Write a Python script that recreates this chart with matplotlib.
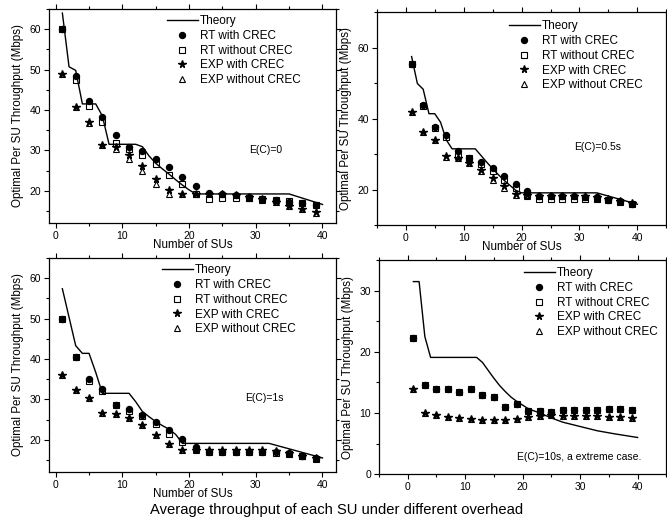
import numpy as np
import matplotlib
matplotlib.use("Agg")
import matplotlib.pyplot as plt
from matplotlib.ticker import MultipleLocator

plt.rcParams['font.family'] = ['Liberation Sans', 'DejaVu Sans']

x_su = [1, 3, 5, 7, 9, 11, 13, 15, 17, 19, 21, 23, 25, 27, 29, 31, 33, 35, 37, 39]

# Panel 1: E(C)=0
theory1_x = [1, 2, 3, 4, 6, 7, 8, 12, 13, 14, 15, 16, 17, 18, 19, 20, 21, 35, 40]
theory1_y = [64, 50.7, 49.8, 41.5, 41.5, 38.5, 31.5, 31.5, 30.9, 28.6, 26.8, 25.4, 24.1, 22.7, 21.4, 20.2, 19.2, 19.2, 16.6]
rt_with1 = [60.0, 48.3, 42.3, 38.3, 33.9, 30.8, 29.8, 27.9, 25.9, 23.3, 21.2, 19.4, 19.2, 18.9, 18.4, 18.0, 17.6, 17.3, 16.9, 16.4]
rt_without1 = [60.0, 47.5, 40.9, 37.1, 31.9, 30.3, 28.9, 26.6, 24.0, 21.6, 19.1, 18.0, 18.1, 18.1, 18.1, 18.0, 17.6, 17.4, 17.0, 16.4]
exp_with1 = [48.8, 40.7, 37.0, 31.3, 30.8, 28.8, 26.1, 22.9, 20.3, 19.2, 19.2, 19.3, 19.1, 18.9, 18.4, 17.9, 17.2, 16.2, 15.5, 14.7]
exp_without1 = [48.8, 40.7, 36.7, 31.3, 30.3, 27.9, 24.8, 21.6, 19.1, 19.1, 19.2, 19.3, 19.1, 18.9, 18.2, 17.8, 17.1, 16.2, 15.5, 14.6]

# Panel 2: E(C)=0.5s
theory2_x = [1, 2, 3, 4, 5, 6, 7, 8, 12, 13, 14, 15, 16, 17, 18, 19, 20, 33, 40]
theory2_y = [57.5, 49.9, 48.3, 41.4, 41.4, 39.0, 34.0, 31.5, 31.5, 29.6, 27.7, 25.9, 24.2, 22.6, 21.2, 19.8, 19.1, 19.1, 15.9]
rt_with2 = [55.3, 43.8, 37.7, 35.3, 31.0, 29.0, 27.8, 26.0, 23.9, 21.6, 19.6, 18.3, 18.2, 18.2, 18.1, 18.0, 17.8, 17.2, 16.7, 16.0]
rt_without2 = [55.3, 43.7, 37.3, 34.7, 29.6, 28.8, 27.2, 25.3, 22.7, 20.5, 18.6, 17.5, 17.5, 17.5, 17.5, 17.5, 17.5, 17.0, 16.5, 16.0]
exp_with2 = [42.0, 36.2, 34.1, 29.5, 28.8, 27.6, 25.6, 23.4, 21.0, 18.7, 18.4, 18.3, 18.3, 18.3, 18.3, 18.1, 17.8, 17.4, 16.9, 16.2]
exp_without2 = [42.0, 36.2, 34.0, 29.2, 28.8, 27.6, 25.3, 22.7, 20.4, 18.5, 18.2, 18.2, 18.2, 18.2, 18.2, 18.0, 17.7, 17.3, 16.8, 16.1]

# Panel 3: E(C)=1s
theory3_x = [1, 3, 4, 5, 6, 7, 11, 12, 13, 14, 15, 16, 17, 18, 19, 32, 40]
theory3_y = [57.4, 43.3, 41.4, 41.4, 36.7, 31.5, 31.5, 29.4, 27.0, 25.7, 24.5, 23.5, 22.6, 21.3, 19.1, 19.1, 15.5]
rt_with3 = [50.0, 40.5, 35.0, 32.5, 28.6, 27.5, 26.1, 24.4, 22.3, 20.1, 18.2, 17.0, 17.0, 17.0, 17.0, 17.0, 16.9, 16.6, 16.0, 15.4]
rt_without3 = [50.0, 40.4, 34.5, 32.1, 28.5, 27.2, 25.8, 23.9, 21.4, 19.5, 17.6, 16.9, 16.9, 16.9, 16.9, 16.9, 16.8, 16.4, 15.9, 15.3]
exp_with3 = [36.0, 32.2, 30.3, 26.7, 26.5, 25.5, 23.6, 21.2, 18.9, 17.5, 17.5, 17.4, 17.4, 17.4, 17.4, 17.4, 17.3, 16.8, 16.1, 15.5]
exp_without3 = [36.0, 32.2, 30.3, 26.7, 26.5, 25.5, 23.6, 21.2, 18.9, 17.5, 17.5, 17.4, 17.4, 17.4, 17.4, 17.4, 17.3, 16.8, 16.1, 15.5]

# Panel 4: E(C)=10s
theory4_x = [1, 2, 3, 4, 12, 13, 14, 15, 16, 17, 18, 19, 20, 21, 23, 25, 27, 30, 33, 36, 40]
theory4_y = [31.5, 31.5, 22.5, 19.1, 19.1, 18.3, 17.0, 15.7, 14.5, 13.5, 12.6, 11.9, 11.3, 10.7, 10.0, 9.2, 8.5, 7.8, 7.1, 6.6, 6.0]
rt_with4 = [22.2, 14.6, 13.9, 13.9, 13.5, 13.9, 12.9, 12.7, 11.0, 11.5, 10.4, 10.3, 10.2, 10.5, 10.5, 10.5, 10.5, 10.7, 10.6, 10.5]
rt_without4 = [22.2, 14.6, 13.9, 13.9, 13.5, 13.9, 12.9, 12.7, 11.0, 11.5, 10.4, 10.3, 10.2, 10.5, 10.5, 10.5, 10.5, 10.7, 10.6, 10.5]
exp_with4 = [14.0, 10.0, 9.7, 9.4, 9.2, 9.1, 8.9, 8.8, 8.9, 9.0, 9.3, 9.5, 9.6, 9.5, 9.5, 9.5, 9.5, 9.4, 9.3, 9.2]
exp_without4 = [14.0, 10.0, 9.7, 9.4, 9.2, 9.1, 8.9, 8.8, 8.9, 9.0, 9.3, 9.5, 9.6, 9.5, 9.5, 9.5, 9.5, 9.4, 9.3, 9.2]

labels = ['Theory', 'RT with CREC', 'RT without CREC', 'EXP with CREC', 'EXP without CREC']
notes = ['E(C)=0', 'E(C)=0.5s', 'E(C)=1s', 'E(C)=10s, a extreme case.']
ylabel = 'Optimal Per SU Throughput (Mbps)'
xlabel = 'Number of SUs'
caption = 'Average throughput of each SU under different overhead'

W, H = 667, 531
fig = plt.figure(figsize=(W / 100, H / 100), dpi=100)

panels = [
    dict(rect=[0.0735, 0.580, 0.430, 0.403], th=(theory1_x, theory1_y), d=(rt_with1, rt_without1, exp_with1, exp_without1),
         xlim=(-1, 42), ylim=(12, 65), ymaj=10, note=(29.0, 30.0), xl=True, leg=(167, 15)),
    dict(rect=[0.565, 0.576, 0.434, 0.401], th=(theory2_x, theory2_y), d=(rt_with2, rt_without2, exp_with2, exp_without2),
         xlim=(-5, 45), ylim=(10, 70), ymaj=20, note=(29.0, 32.0), xl=True, leg=(509, 20)),
    dict(rect=[0.0735, 0.111, 0.430, 0.403], th=(theory3_x, theory3_y), d=(rt_with3, rt_without3, exp_with3, exp_without3),
         xlim=(-1, 42), ylim=(12, 65), ymaj=10, note=(28.4, 30.3), xl=True, leg=(162, 264)),
    dict(rect=[0.568, 0.107, 0.431, 0.403], th=(theory4_x, theory4_y), d=(rt_with4, rt_without4, exp_with4, exp_without4),
         xlim=(-5, 45), ylim=(0, 35), ymaj=10, note=(19.0, 2.8), xl=False, leg=(524, 267)),
]

for i, p in enumerate(panels):
    ax = fig.add_axes(p['rect'])
    tx, ty = p['th']
    a, b, c, d = p['d']
    ax.plot(tx, ty, '-', color='black', lw=1.0, label=labels[0], zorder=2)
    ax.plot(x_su, a, 'o', ls='none', color='black', ms=4.3, label=labels[1], zorder=3)
    ax.plot(x_su, b, 's', ls='none', mfc='none', mec='black', mew=0.8, ms=3.9, label=labels[2], zorder=4)
    ax.plot(x_su, c, '*', ls='none', color='black', ms=5.5, label=labels[3], zorder=3)
    ax.plot(x_su, d, '^', ls='none', mfc='none', mec='black', mew=0.8, ms=4.3, label=labels[4], zorder=4)
    ax.set_xlim(*p['xlim'])
    ax.set_ylim(*p['ylim'])
    ax.xaxis.set_major_locator(MultipleLocator(10))
    ax.xaxis.set_minor_locator(MultipleLocator(5))
    ax.yaxis.set_major_locator(MultipleLocator(p['ymaj']))
    ax.yaxis.set_minor_locator(MultipleLocator(p['ymaj'] / 2))
    ax.tick_params(which='both', direction='out', labelsize=7.5, colors='black', pad=2,
                   top=True, right=True)
    ax.tick_params(which='major', length=3.5, width=0.8)
    ax.tick_params(which='minor', length=2, width=0.8)
    for s in ax.spines.values():
        s.set_linewidth(0.9)
    ax.set_ylabel(ylabel, fontsize=8.4, labelpad=4)
    if p['xl']:
        ax.set_xlabel(xlabel, fontsize=8.4, labelpad=-1)
    ax.text(p['note'][0], p['note'][1], notes[i], fontsize=7.5, va='center', ha='left')
    lx, ly = p['leg']
    ax.legend(loc='upper left', bbox_to_anchor=(lx / W, 1 - ly / H), bbox_transform=fig.transFigure,
              frameon=False, fontsize=8.5, handlelength=2.6, handletextpad=0.2,
              labelspacing=0.24, borderpad=0, borderaxespad=0)

fig.text(0.505, 0.04, caption, ha='center', va='center', fontsize=10.6)

fig.savefig('out.png', dpi=100)
